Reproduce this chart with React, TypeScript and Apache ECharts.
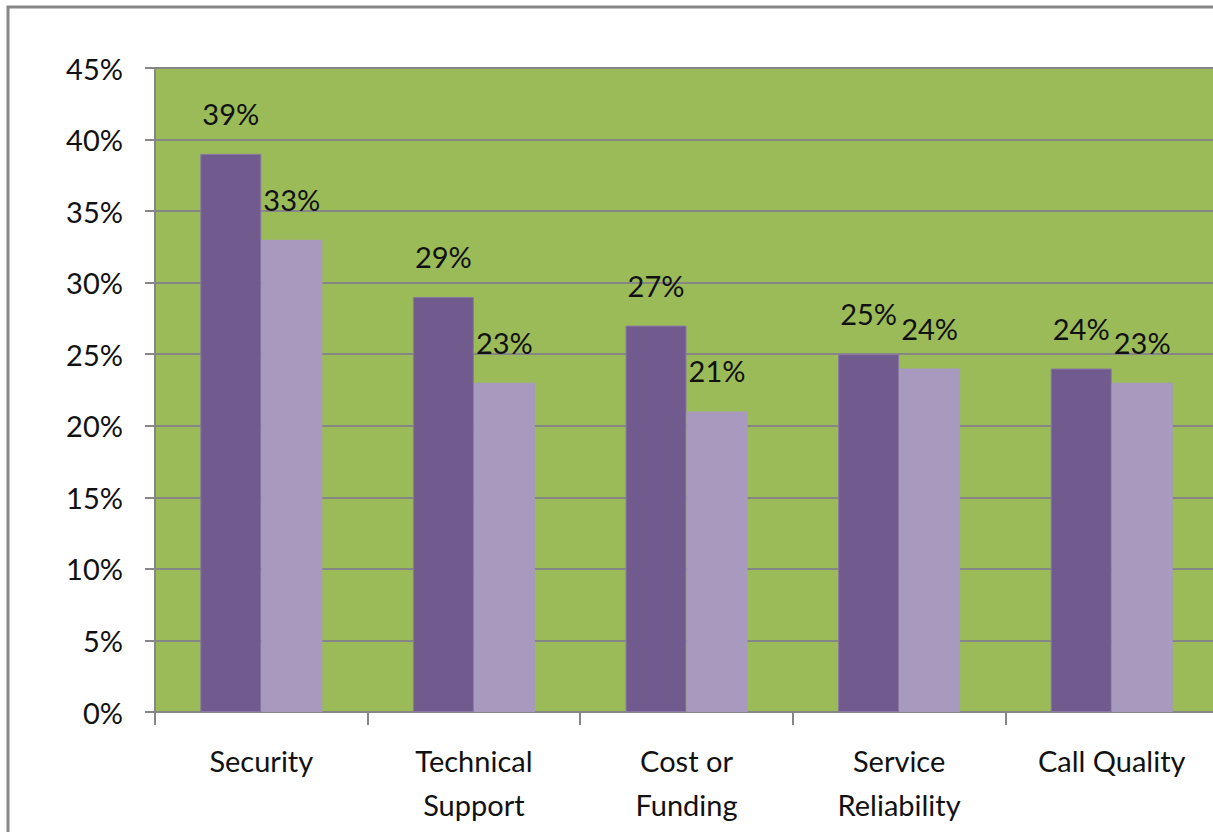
import React, { useEffect, useRef } from "react";
import * as echarts from "echarts";

// Survey concerns, share of respondents (%)
const categories = [
  "Security",
  "Technical\nSupport",
  "Cost or\nFunding",
  "Service\nReliability",
  "Call Quality",
];
const seriesDark = [39, 29, 27, 25, 24];
const seriesLight = [33, 23, 21, 24, 23];
const seriesNames = ["Series 1", "Series 2"];

const FONT = "Lato, 'Open Sans', sans-serif";

export default function App() {
  const ref = useRef<HTMLDivElement>(null);

  useEffect(() => {
    if (!ref.current) return;
    const chart = echarts.init(ref.current, undefined, { renderer: "svg" });

    const labelStyle = {
      show: true,
      position: "top" as const,
      distance: 26,
      formatter: "{c}%",
      color: "#111",
      fontSize: 29,
      fontFamily: FONT,
    };

    chart.setOption({
      animation: false,
      backgroundColor: "#ffffff",
      graphic: [
        {
          type: "rect",
          shape: { x: 8, y: 7, width: 1400, height: 1000 },
          style: { fill: "none", stroke: "#878787", lineWidth: 3 },
          silent: true,
          z: 100,
        },
      ],
      grid: {
        left: 155,
        right: 22,
        top: 68,
        bottom: 120,
        show: true,
        backgroundColor: "#9BBB59",
        borderWidth: 0,
      },
      xAxis: {
        type: "category",
        data: categories,
        axisLine: { show: true, lineStyle: { color: "#868686", width: 2 } },
        axisTick: {
          show: true,
          length: 13,
          lineStyle: { color: "#868686", width: 2 },
        },
        axisLabel: {
          color: "#111",
          fontSize: 29,
          fontFamily: FONT,
          margin: 26,
          lineHeight: 44,
          interval: 0,
        },
      },
      yAxis: {
        type: "value",
        min: 0,
        max: 45,
        interval: 5,
        axisLine: { show: true, lineStyle: { color: "#868686", width: 2 } },
        axisTick: {
          show: true,
          length: 10,
          lineStyle: { color: "#868686", width: 2 },
        },
        axisLabel: {
          formatter: "{value}%",
          color: "#111",
          fontSize: 29,
          fontFamily: FONT,
          margin: 32,
          padding: [0, 0, 6, 0],
        },
        splitLine: { show: true, lineStyle: { color: "#868686", width: 2 } },
      },
      series: [
        {
          name: seriesNames[0],
          type: "bar",
          data: seriesDark,
          barWidth: 61,
          barGap: "0%",
          itemStyle: { color: "#705A8E", borderColor: "#8A78A6", borderWidth: 1 },
          label: labelStyle,
        },
        {
          name: seriesNames[1],
          type: "bar",
          data: seriesLight,
          barWidth: 61,
          barGap: "0%",
          itemStyle: { color: "#A899BF" },
          label: labelStyle,
        },
      ],
    });

    return () => chart.dispose();
  }, []);

  return (
    <div
      style={{
        position: "absolute",
        left: 0,
        top: 0,
        width: 1213,
        height: 832,
        overflow: "hidden",
      }}
    >
      <div ref={ref} style={{ width: 1240, height: 832 }} />
    </div>
  );
}
